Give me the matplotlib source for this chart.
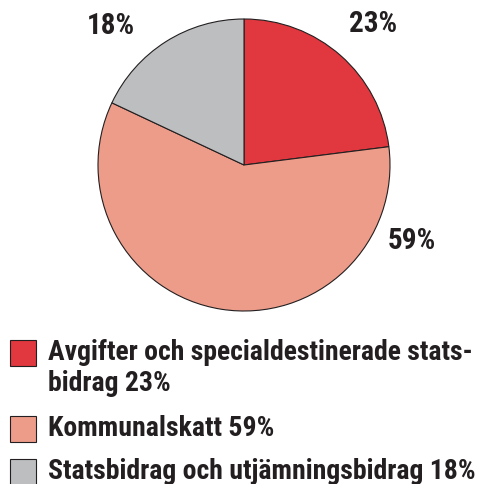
import matplotlib.pyplot as plt
from matplotlib.patches import Rectangle

shares = [23, 59, 18]
colors = ["#E0383E", "#EE9C8A", "#BDBEC0"]
pct_labels = ["23%", "59%", "18%"]
legend_labels = [
    "Avgifter och specialdestinerade stats-\nbidrag 23%",
    "Kommunalskatt 59%",
    "Statsbidrag och utjämningsbidrag 18%",
]

txt = "#231F20"
font = ["Roboto Condensed", "DejaVu Sans"]

fig = plt.figure(figsize=(4.83, 4.84), dpi=100)
W, H = 483, 484

# pie: centre (244,165), radius 146 px
ax = fig.add_axes([98 / W, (H - 311) / H, 292 / W, 292 / H])
ax.pie(shares, colors=colors, startangle=90, counterclock=False,
       wedgeprops=dict(edgecolor="#231F20", linewidth=0.8))
ax.set_xlim(-1, 1)
ax.set_ylim(-1, 1)
ax.axis("off")

# percentage labels (pixel positions of the text centres)
label_pos = [(373, 24), (412, 241), (111, 26)]
for lab, (x, y) in zip(pct_labels, label_pos):
    fig.text(x / W, 1 - y / H, lab, ha="center", va="center",
             fontsize=21, fontweight=900, family=font, color=txt)

# legend
rows = [340, 416, 459]
for c, lab, y in zip(colors, legend_labels, rows):
    fig.patches.append(Rectangle((10 / W, 1 - (y + 26) / H), 26 / W, 26 / H,
                                 transform=fig.transFigure, facecolor=c,
                                 edgecolor="#231F20", linewidth=0.8))
    fig.text(48 / W, 1 - (y - 1) / H, lab, ha="left", va="top",
             fontsize=20, fontweight=900, family=font, color=txt,
             linespacing=1.2)

fig.savefig("out.png", dpi=100)
